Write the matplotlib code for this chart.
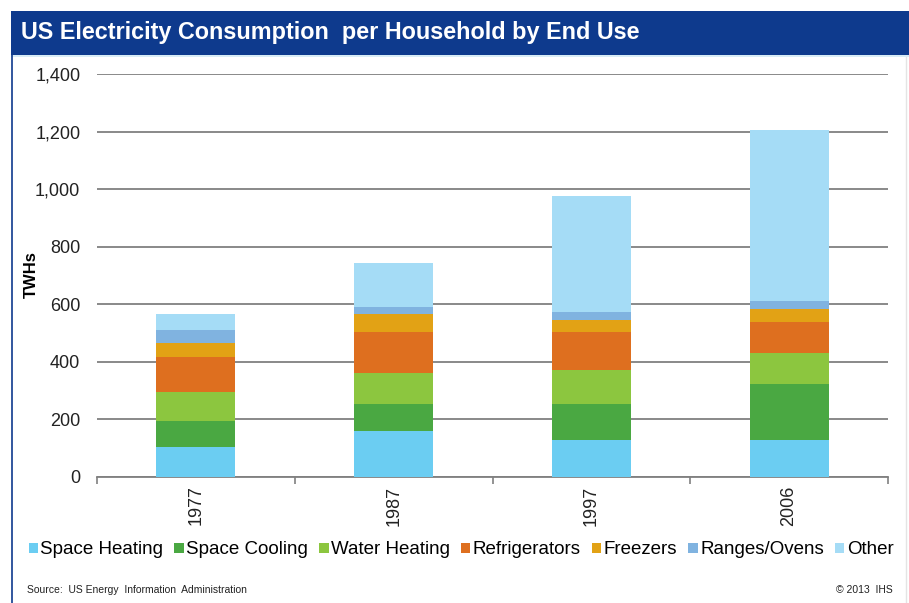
import numpy as np
import matplotlib
matplotlib.use("Agg")
import matplotlib.pyplot as plt
from matplotlib.patches import Rectangle

plt.rcParams['font.family'] = ['Liberation Sans', 'DejaVu Sans']

years = ["1977", "1987", "1997", "2006"]
end_uses = ["Space Heating", "Space Cooling", "Water Heating", "Refrigerators",
            "Freezers", "Ranges/Ovens", "Other"]

# TWh per end use, one entry per year
space_heating = [104, 159, 127, 127]
space_cooling = [90, 94, 127, 194]
water_heating = [100, 107, 117, 110]
refrigerators = [121, 145, 134, 106]
freezers = [51, 60, 40, 45]
ranges_ovens = [44, 27, 27, 29]
other = [55, 152, 405, 595]

series = [space_heating, space_cooling, water_heating, refrigerators,
          freezers, ranges_ovens, other]
colors = ["#6bcdf2", "#4aa842", "#8cc63f", "#de6f1f", "#e2a215", "#80b3e0", "#a5dcf6"]
yticks = [0, 200, 400, 600, 800, 1000, 1200, 1400]

W, H = 909, 603
fig = plt.figure(figsize=(W / 100, H / 100), dpi=100)

# title banner and frame
fig.patches.append(Rectangle((11 / W, 1 - 55 / H), 1, 44 / H, transform=fig.transFigure,
                             facecolor="#0e3a8d", edgecolor="none", zorder=0))
fig.patches.append(Rectangle((11 / W, 1 - 57 / H), 1, 2 / H, transform=fig.transFigure,
                             facecolor="#d8ecf6", edgecolor="none", zorder=0))
fig.add_artist(plt.Line2D([12 / W, 12 / W], [0, 1 - 55 / H], transform=fig.transFigure,
                          color="#0e3a8d", lw=1.2))
fig.add_artist(plt.Line2D([906 / W, 906 / W], [0, 1 - 57 / H], transform=fig.transFigure,
                          color="#e4e4e4", lw=1.0))
fig.text(21 / W, 1 - 33 / H, "US Electricity Consumption  per Household by End Use",
         color="white", fontsize=16.8, fontweight="bold", va="center", ha="left")

ax = fig.add_axes([97 / W, 1 - 476.7 / H, (888 - 97) / W, (476.7 - 74.3) / H])
x = np.arange(len(years))
bottom = np.zeros(len(years))
for vals, c, name in zip(series, colors, end_uses):
    ax.bar(x, vals, width=0.4, bottom=bottom, color=c, label=name, zorder=3)
    bottom += np.array(vals)

ax.set_xlim(-0.5, len(years) - 0.5)
ax.set_ylim(0, 1400)
ax.set_yticks(yticks)
ax.set_yticklabels([f"{v:,}" for v in yticks], fontsize=13, color="#222222")
ax.tick_params(axis="y", length=0, pad=12)
ax.yaxis.grid(True, color="#808080", lw=1.3, zorder=1)
ax.set_axisbelow(True)

ax.set_xticks(np.arange(-0.5, len(years), 1.0))
ax.set_xticklabels([])
ax.tick_params(axis="x", direction="out", length=5, color="#808080", width=1.2)
for xi, yr in zip(x, years):
    ax.text(xi, -0.022, yr, transform=ax.get_xaxis_transform(), rotation=90,
            ha="center", va="top", fontsize=13, color="#222222")

for s in ["top", "right", "left"]:
    ax.spines[s].set_visible(False)
ax.spines["bottom"].set_color("#808080")
ax.spines["bottom"].set_linewidth(1.3)

fig.text(31 / W, 1 - 275 / H, "TWHs", rotation=90, fontsize=12, fontweight="bold",
         ha="center", va="center")

handles, labels = ax.get_legend_handles_labels()
fig.legend(handles, labels, loc="center", bbox_to_anchor=(461 / W, 1 - 550 / H), ncol=7,
           frameon=False, fontsize=13.5, handlelength=0.5, handleheight=0.5,
           handletextpad=0.12, columnspacing=0.6, borderaxespad=0, borderpad=0)

fig.text(27 / W, 1 - 590 / H, "Source:  US Energy  Information  Administration",
         fontsize=7.5, ha="left", va="center", color="#222222")
fig.text(893 / W, 1 - 590 / H, "\u00a9 2013  IHS", fontsize=7.5, ha="right", va="center",
         color="#222222")

fig.savefig("out.png", dpi=100)
